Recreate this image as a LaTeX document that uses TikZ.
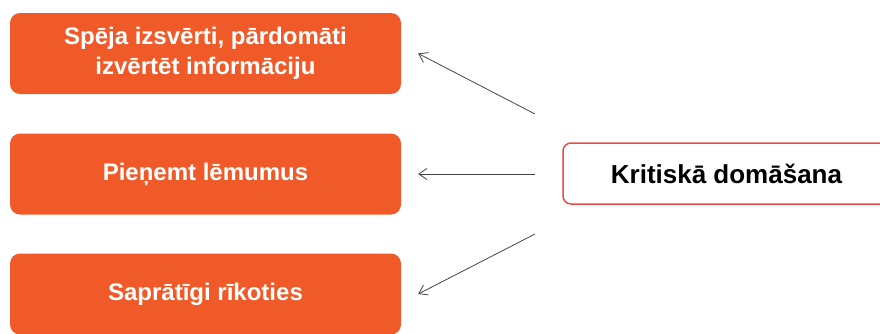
\documentclass[tikz,border=0pt]{standalone}
\usepackage{fontspec}
\setmainfont{Liberation Sans}
\usetikzlibrary{arrows.meta}
\definecolor{skillorange}{HTML}{F05A28}
\definecolor{critred}{HTML}{F04848}
\definecolor{arrowgray}{HTML}{444444}

\begin{document}
\begin{tikzpicture}[x=1pt,y=-1pt,
  skill/.style={fill=skillorange, rounded corners=10pt, minimum width=391pt, minimum height=81pt,
    inner sep=0pt, text=white, align=center, font=\bfseries\fontsize{24}{30}\selectfont},
  crit/.style={draw=critred, line width=1.5pt, fill=white, rounded corners=8pt, minimum width=327pt,
    minimum height=61pt, inner sep=0pt, font=\bfseries\fontsize{26}{30}\selectfont},
  link/.style={draw=arrowgray, line width=0.8pt, -{Straight Barb[length=8pt,width=11pt]}}]

\useasboundingbox (0,0) rectangle (880,333);

\node [skill] (eval) at (205.5,53.5) {Spēja izsvērti, pārdomāti\\izvērtēt informāciju};
\node [skill] (decide) at (205.5,174) {Pieņemt lēmumus};
\node [skill] (act) at (205.5,294) {Saprātīgi rīkoties};
\node [crit] (think) at (726.5,173.5) {Kritiskā domāšana};

\coordinate (s1) at (535,114);
\coordinate (s2) at (535,174);
\coordinate (s3) at (535,234);

\draw [link] (s1) -- ([xshift=17pt]eval.east);
\draw [link] (s2) -- ([xshift=17pt]decide.east);
\draw [link] (s3) -- ([xshift=17pt]act.east);

\end{tikzpicture}
\end{document}
